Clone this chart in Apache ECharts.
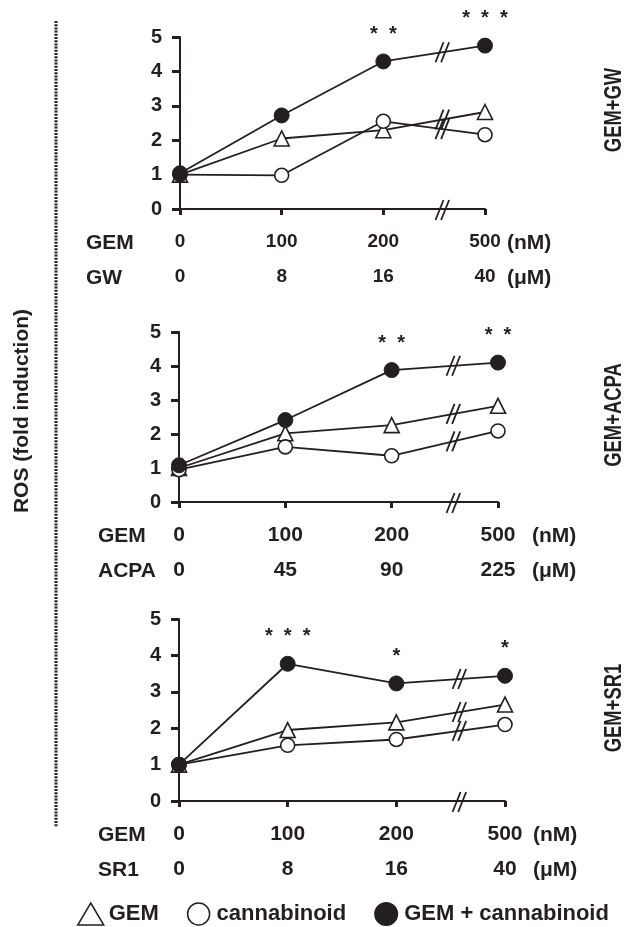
<!DOCTYPE html>
<html>
<head>
<meta charset="utf-8">
<script src="https://cdn.jsdelivr.net/npm/echarts@6/dist/echarts.min.js"></script>
<style>
  html, body { margin: 0; padding: 0; background: #fff; }
  #chart { width: 627px; height: 927px; }
</style>
</head>
<body>
<div id="chart"></div>
<script>
const gemDose = ['0', '100', '200', '500'];
const gwDose = ['0', '8', '16', '40'];
const acpaDose = ['0', '45', '90', '225'];
const sr1Dose = ['0', '8', '16', '40'];

const gwGem = [1.0, 2.05, 2.29, 2.82];
const gwCann = [1.0, 0.98, 2.55, 2.16];
const gwCombo = [1.04, 2.72, 4.29, 4.75];
const gwSig = ['', '', '*  *', '*  *  *'];

const acpaGem = [1.0, 2.02, 2.26, 2.83];
const acpaCann = [0.95, 1.62, 1.36, 2.09];
const acpaCombo = [1.08, 2.41, 3.88, 4.1];
const acpaSig = ['', '', '*  *', '*  *'];

const sr1Gem = [1.0, 1.95, 2.16, 2.65];
const sr1Cann = [1.0, 1.53, 1.69, 2.1];
const sr1Combo = [1.0, 3.77, 3.23, 3.44];
const sr1Sig = ['', '*  *  *', '*', '*'];

const ink = '#231f20';
const font = 'Liberation Sans, Arial, sans-serif';

const panels = [
  { name: 'GW', dose: gwDose, gem: gwGem, cann: gwCann, combo: gwCombo, sig: gwSig, title: 'GEM+GW',
    grid: { left: 180, top: 37, width: 305, height: 172 }, tickFont: 19, labelX: 86, unitX: 507, titleY: 110 },
  { name: 'ACPA', dose: acpaDose, gem: acpaGem, cann: acpaCann, combo: acpaCombo, sig: acpaSig, title: 'GEM+ACPA',
    grid: { left: 179, top: 332, width: 319, height: 170 }, tickFont: 21, labelX: 98, unitX: 532, titleY: 415 },
  { name: 'SR1', dose: sr1Dose, gem: sr1Gem, cann: sr1Cann, combo: sr1Combo, sig: sr1Sig, title: 'GEM+SR1',
    grid: { left: 179, top: 619, width: 326, height: 182 }, tickFont: 21, labelX: 98, unitX: 533, titleY: 708 }
];

const chart = echarts.init(document.getElementById('chart'));

const toPairs = (arr) => arr.map((v, i) => [i, v]);

const grids = panels.map((p) => p.grid);
const xAxes = [];
const yAxes = [];
const series = [];

panels.forEach((p, i) => {
  xAxes.push({
    gridIndex: i, type: 'value', min: 0, max: 3, interval: 1,
    axisLine: { show: true, lineStyle: { color: ink, width: 2 } },
    axisTick: { show: true, length: 6, lineStyle: { color: ink, width: 3 } },
    splitLine: { show: false },
    axisLabel: { margin: 23, color: ink, fontSize: p.tickFont, fontWeight: 'bold', fontFamily: font,
      formatter: (v) => gemDose[v] }
  });
  xAxes.push({
    gridIndex: i, type: 'value', min: 0, max: 3, interval: 1, position: 'bottom', offset: 35,
    axisLine: { show: false }, axisTick: { show: false }, splitLine: { show: false },
    axisLabel: { margin: 23, color: ink, fontSize: p.tickFont, fontWeight: 'bold', fontFamily: font,
      formatter: (v) => p.dose[v] }
  });
  yAxes.push({
    gridIndex: i, type: 'value', min: 0, max: 5, interval: 1,
    axisLine: { show: true, lineStyle: { color: ink, width: 2 } },
    axisTick: { show: true, length: 8, lineStyle: { color: ink, width: 3 } },
    splitLine: { show: false },
    axisLabel: { margin: 18, color: ink, fontSize: 20, fontWeight: 'bold', fontFamily: font }
  });

  const base = {
    type: 'line', xAxisIndex: i * 2, yAxisIndex: i, symbolSize: 14,
    lineStyle: { color: ink, width: 1.8 }, animation: false
  };
  series.push(Object.assign({}, base, {
    name: 'GEM', data: toPairs(p.gem), symbol: 'triangle', symbolSize: 15,
    itemStyle: { color: '#fff', borderColor: ink, borderWidth: 1.6 }
  }));
  series.push(Object.assign({}, base, {
    name: 'cannabinoid', data: toPairs(p.cann), symbol: 'circle',
    itemStyle: { color: '#fff', borderColor: ink, borderWidth: 1.6 }
  }));
  series.push(Object.assign({}, base, {
    name: 'GEM + cannabinoid', data: toPairs(p.combo), symbol: 'circle', symbolSize: 15,
    itemStyle: { color: ink, borderColor: ink, borderWidth: 1 },
    label: { show: true, position: 'top', distance: 9, color: ink, fontSize: 20, lineHeight: 20,
      fontWeight: 'bold', fontFamily: font, formatter: (d) => p.sig[d.dataIndex] }
  }));
});

chart.setOption({
  animation: false,
  grid: grids,
  xAxis: xAxes,
  yAxis: yAxes,
  series: series,
  legend: {
    left: 72, top: 897, itemWidth: 26, itemHeight: 22, itemGap: 28,
    textStyle: { color: ink, fontSize: 22, fontWeight: 'bold', fontFamily: font },
    data: [
      { name: 'GEM', icon: 'triangle', itemStyle: { color: '#fff', borderColor: ink, borderWidth: 1.5 } },
      { name: 'cannabinoid', icon: 'circle', itemStyle: { color: '#fff', borderColor: ink, borderWidth: 1.5 } },
      { name: 'GEM + cannabinoid', icon: 'circle', itemStyle: { color: ink, borderColor: ink } }
    ]
  }
});

// break marks "//" on the axis and on each line between 200 and 500
const breakMark = (cx, cy) => [-2.8, 2.8].map((off) => ({
  type: 'line', silent: true, z: 100,
  shape: { x1: cx + off - 4, y1: cy + 10, x2: cx + off + 4, y2: cy - 10 },
  style: { stroke: ink, lineWidth: 1.8 }
}));

const graphics = [];
const textEl = (text, x, y) => ({
  type: 'text', x: x, y: y, silent: true,
  style: { text: text, fill: ink, font: 'bold 21px ' + font, textVerticalAlign: 'middle' }
});

panels.forEach((p, i) => {
  const at = 2.58;
  [p.gem, p.cann, p.combo].forEach((arr) => {
    const yv = arr[2] + (arr[3] - arr[2]) * (at - 2);
    const pt = chart.convertToPixel({ gridIndex: i }, [at, yv]);
    graphics.push(...breakMark(pt[0], pt[1]));
  });
  const ax = chart.convertToPixel({ gridIndex: i }, [2.58, 0]);
  graphics.push(...breakMark(ax[0], ax[1] + 1));

  const bottom = p.grid.top + p.grid.height;
  graphics.push(textEl('GEM', p.labelX, bottom + 34));
  graphics.push(textEl(p.name, p.labelX, bottom + 69));
  graphics.push(textEl('(nM)', p.unitX, bottom + 34));
  graphics.push(textEl('(\u03bcM)', p.unitX, bottom + 69));
  graphics.push({
    type: 'text', x: 615, y: p.titleY, rotation: Math.PI / 2, scaleX: 0.8, silent: true,
    style: { text: p.title, fill: ink, font: 'bold 23px ' + font, textAlign: 'center', textVerticalAlign: 'middle' }
  });
});

graphics.push({
  type: 'text', x: 22, y: 411, rotation: Math.PI / 2, silent: true,
  style: { text: 'ROS (fold induction)', fill: ink, font: 'bold 21px ' + font, textAlign: 'center', textVerticalAlign: 'middle' }
});
graphics.push({
  type: 'line', silent: true,
  shape: { x1: 56, y1: 21, x2: 56, y2: 827 },
  style: { stroke: ink, lineWidth: 3, lineDash: [2, 1.2] }
});

chart.setOption({ graphic: graphics });
</script>
</body>
</html>
